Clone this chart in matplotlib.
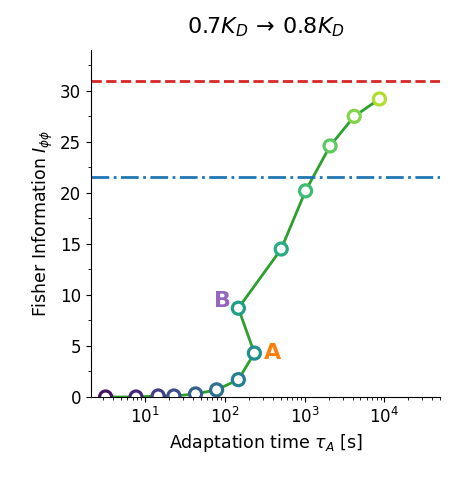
import matplotlib
matplotlib.use("Agg")
import matplotlib.pyplot as plt
import numpy as np

tau = [3.2, 7.7, 14.6, 23, 43, 79, 148, 235, 148, 510, 1030, 2090, 4200, 8700]
fisher = [0.0, 0.0, 0.1, 0.1, 0.3, 0.7, 1.7, 4.3, 8.7, 14.5, 20.2, 24.6, 27.5, 29.2]
ref_red = 31.0
ref_blue = 21.6

fig = plt.figure(figsize=(4.54, 4.84), dpi=100)
ax = fig.add_axes([91/454, 1-397/484, 349/454, 347/484])
ax.plot(tau, fisher, color='#2ca02c', lw=2, zorder=2)
cols = plt.cm.viridis(np.linspace(0.05, 0.88, len(tau)))
ax.scatter(tau, fisher, s=75, facecolor='white', edgecolor=cols, linewidths=2.3, zorder=3)
ax.axhline(ref_red, color='#d62728', ls='--', lw=2)
ax.axhline(ref_blue, color='#1f77b4', ls='-.', lw=2)
ax.text(tau[7]*1.3, fisher[7], 'A', color='#ff7f0e', fontsize=16, fontweight='bold', va='center', ha='left')
ax.text(tau[8]/1.25, fisher[8]+0.7, 'B', color='#9467bd', fontsize=16, fontweight='bold', va='center', ha='right')
ax.set_xscale('log')
ax.set_xlim(2.1, 5e4)
ax.set_ylim(0, 34)
ax.set_yticks([0, 5, 10, 15, 20, 25, 30])
ax.yaxis.set_minor_locator(matplotlib.ticker.MultipleLocator(2.5))
ax.spines['top'].set_visible(False)
ax.spines['right'].set_visible(False)
ax.tick_params(labelsize=12)
ax.set_xlabel(r'Adaptation time $\tau_A$ [s]', fontsize=12.5)
ax.set_ylabel(r'Fisher Information $I_{\phi\phi}$', fontsize=12.5)
ax.set_title(r'$0.7K_D\,\rightarrow\,0.8K_D$', fontsize=16, pad=12)
fig.savefig('out.png', dpi=100)
